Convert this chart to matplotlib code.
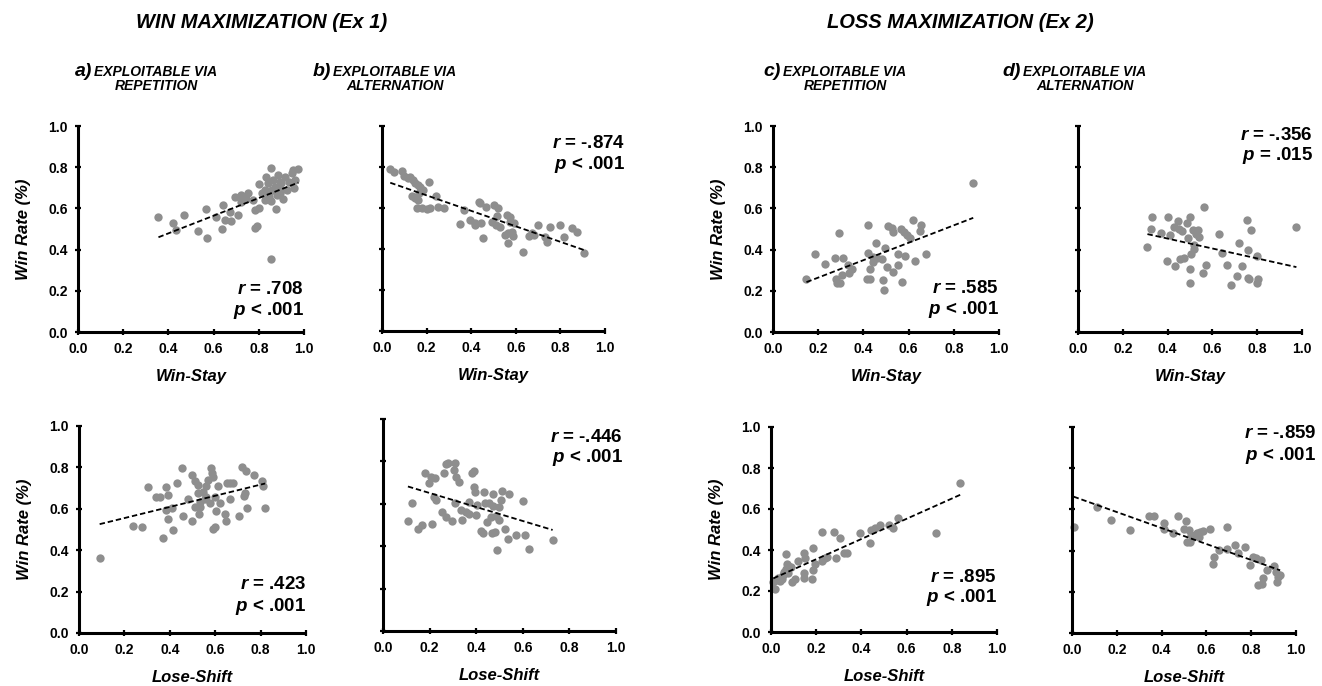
import matplotlib
import matplotlib.pyplot as plt
import numpy as np

matplotlib.use("Agg")

plt.rcParams["font.family"] = ["Liberation Sans", "DejaVu Sans"]
plt.rcParams["mathtext.fontset"] = "custom"
plt.rcParams["mathtext.bfit"] = "Liberation Sans:bold:italic"
plt.rcParams["mathtext.it"] = "Liberation Sans:bold:italic"

# ---- data ----
# Win maximization, exploitable via repetition: Win-Stay
win_rep_ws_x = [0.356, 0.419, 0.468, 0.434, 0.53, 0.567, 0.572, 0.612, 0.641, 0.639, 0.649, 0.671,
                0.679, 0.693, 0.708, 0.723, 0.745, 0.775, 0.782, 0.782, 0.79, 0.801, 0.801, 0.812,
                0.827, 0.841, 0.849, 0.853, 0.853, 0.856, 0.864, 0.871, 0.874, 0.879, 0.886, 0.893,
                0.9, 0.908, 0.916, 0.926, 0.933, 0.945, 0.953, 0.957, 0.975, 0.96, 0.834, 0.86,
                0.844, 0.9, 0.827, 0.893, 0.723, 0.751]
win_rep_ws_y = [0.556, 0.527, 0.567, 0.494, 0.49, 0.595, 0.454, 0.556, 0.616, 0.502, 0.543, 0.583,
                0.538, 0.656, 0.567, 0.632, 0.648, 0.64, 0.592, 0.507, 0.514, 0.603, 0.718, 0.673,
                0.689, 0.721, 0.684, 0.794, 0.637, 0.355, 0.737, 0.705, 0.595, 0.664, 0.762, 0.729,
                0.689, 0.648, 0.754, 0.689, 0.729, 0.77, 0.786, 0.697, 0.789, 0.737, 0.754, 0.689,
                0.656, 0.721, 0.64, 0.673, 0.664, 0.673]

# Win maximization, exploitable via alternation: Win-Stay
win_alt_ws_x = [0.037, 0.052, 0.09, 0.097, 0.115, 0.127, 0.139, 0.149, 0.16, 0.172, 0.184, 0.213,
                0.134, 0.149, 0.16, 0.157, 0.179, 0.201, 0.216, 0.243, 0.249, 0.276, 0.164, 0.351,
                0.366, 0.396, 0.416, 0.436, 0.44, 0.419, 0.446, 0.455, 0.467, 0.5, 0.522, 0.493,
                0.512, 0.515, 0.56, 0.575, 0.575, 0.552, 0.567, 0.567, 0.582, 0.587, 0.631, 0.657,
                0.672, 0.682, 0.701, 0.739, 0.754, 0.799, 0.818, 0.854, 0.873, 0.906, 0.53, 0.59,
                0.731]
win_alt_ws_y = [0.789, 0.777, 0.782, 0.756, 0.745, 0.753, 0.737, 0.72, 0.712, 0.701, 0.688, 0.728,
                0.659, 0.647, 0.639, 0.598, 0.598, 0.593, 0.598, 0.659, 0.603, 0.598, 0.672, 0.522,
                0.59, 0.541, 0.528, 0.631, 0.623, 0.517, 0.525, 0.455, 0.606, 0.615, 0.598, 0.533,
                0.517, 0.561, 0.566, 0.558, 0.533, 0.468, 0.476, 0.431, 0.485, 0.463, 0.387, 0.463,
                0.476, 0.468, 0.517, 0.436, 0.506, 0.517, 0.46, 0.501, 0.485, 0.382, 0.509, 0.525,
                0.46]

# Win maximization, exploitable via repetition: Lose-Shift
win_rep_ls_x = [0.091, 0.238, 0.276, 0.305, 0.37, 0.34, 0.355, 0.384, 0.391, 0.384, 0.394, 0.409,
                0.413, 0.433, 0.452, 0.457, 0.479, 0.497, 0.499, 0.509, 0.513, 0.523, 0.528, 0.535,
                0.545, 0.553, 0.56, 0.567, 0.575, 0.582, 0.587, 0.589, 0.592, 0.601, 0.597, 0.604,
                0.611, 0.619, 0.641, 0.648, 0.651, 0.663, 0.667, 0.677, 0.704, 0.717, 0.729, 0.736,
                0.739, 0.773, 0.805, 0.809, 0.82, 0.523, 0.56, 0.73, 0.531]
win_rep_ls_y = [0.362, 0.519, 0.514, 0.704, 0.457, 0.659, 0.659, 0.707, 0.667, 0.595, 0.551, 0.603,
                0.498, 0.727, 0.799, 0.566, 0.646, 0.764, 0.543, 0.611, 0.736, 0.678, 0.576, 0.635,
                0.683, 0.646, 0.711, 0.74, 0.63, 0.796, 0.775, 0.752, 0.502, 0.514, 0.659, 0.587,
                0.711, 0.63, 0.576, 0.539, 0.727, 0.646, 0.727, 0.727, 0.566, 0.804, 0.662, 0.785,
                0.603, 0.764, 0.736, 0.711, 0.603, 0.715, 0.659, 0.674, 0.611]

# Win maximization, exploitable via alternation: Lose-Shift
win_alt_ls_x = [0.107, 0.123, 0.152, 0.169, 0.181, 0.198, 0.205, 0.212, 0.219, 0.224, 0.229, 0.255,
                0.262, 0.269, 0.269, 0.281, 0.295, 0.305, 0.309, 0.309, 0.312, 0.327, 0.341, 0.355,
                0.367, 0.37, 0.384, 0.391, 0.398, 0.391, 0.395, 0.405, 0.42, 0.43, 0.434, 0.438,
                0.448, 0.456, 0.467, 0.47, 0.473, 0.481, 0.484, 0.491, 0.496, 0.499, 0.506, 0.51,
                0.524, 0.537, 0.542, 0.57, 0.603, 0.61, 0.628, 0.728, 0.463, 0.334]
win_alt_ls_y = [0.518, 0.602, 0.483, 0.502, 0.743, 0.696, 0.728, 0.507, 0.633, 0.72, 0.62, 0.562,
                0.743, 0.787, 0.539, 0.791, 0.518, 0.759, 0.791, 0.602, 0.728, 0.704, 0.523, 0.562,
                0.609, 0.554, 0.746, 0.756, 0.546, 0.68, 0.657, 0.594, 0.471, 0.46, 0.657, 0.602,
                0.515, 0.605, 0.46, 0.646, 0.589, 0.468, 0.542, 0.384, 0.523, 0.586, 0.62, 0.661,
                0.483, 0.435, 0.646, 0.452, 0.613, 0.455, 0.389, 0.431, 0.539, 0.57]

# Loss maximization, exploitable via repetition: Win-Stay
loss_rep_ws_x = [0.148, 0.188, 0.23, 0.274, 0.293, 0.277, 0.281, 0.296, 0.304, 0.308, 0.333, 0.338,
                 0.348, 0.422, 0.422, 0.415, 0.427, 0.43, 0.444, 0.456, 0.462, 0.481, 0.486, 0.489,
                 0.496, 0.504, 0.511, 0.526, 0.533, 0.533, 0.551, 0.553, 0.566, 0.573, 0.579, 0.585,
                 0.593, 0.607, 0.619, 0.627, 0.649, 0.655, 0.679, 0.886, 0.444]
loss_rep_ws_y = [0.259, 0.378, 0.329, 0.357, 0.481, 0.259, 0.238, 0.238, 0.276, 0.357, 0.324, 0.287,
                 0.308, 0.519, 0.384, 0.259, 0.308, 0.259, 0.34, 0.434, 0.357, 0.352, 0.251, 0.206,
                 0.41, 0.316, 0.514, 0.507, 0.292, 0.486, 0.378, 0.327, 0.502, 0.243, 0.486, 0.37,
                 0.47, 0.454, 0.546, 0.344, 0.491, 0.519, 0.378, 0.724, 0.365]

# Loss maximization, exploitable via alternation: Win-Stay
loss_alt_ws_x = [0.31, 0.325, 0.33, 0.37, 0.397, 0.4, 0.412, 0.43, 0.435, 0.445, 0.45, 0.456, 0.465,
                 0.471, 0.487, 0.49, 0.498, 0.498, 0.501, 0.505, 0.513, 0.516, 0.52, 0.528, 0.535,
                 0.54, 0.558, 0.562, 0.573, 0.63, 0.643, 0.663, 0.685, 0.711, 0.72, 0.733, 0.756,
                 0.76, 0.76, 0.765, 0.772, 0.798, 0.798, 0.805, 0.975]
loss_alt_ws_y = [0.412, 0.499, 0.56, 0.483, 0.346, 0.56, 0.47, 0.511, 0.321, 0.539, 0.502, 0.354,
                 0.489, 0.357, 0.527, 0.456, 0.56, 0.236, 0.305, 0.379, 0.494, 0.42, 0.404, 0.478,
                 0.494, 0.461, 0.288, 0.605, 0.325, 0.478, 0.384, 0.325, 0.226, 0.272, 0.433, 0.318,
                 0.544, 0.4, 0.264, 0.255, 0.494, 0.371, 0.236, 0.259, 0.511]

# Loss maximization, exploitable via repetition: Lose-Shift
loss_rep_ls_x = [0.01, 0.018, 0.025, 0.033, 0.04, 0.052, 0.058, 0.067, 0.067, 0.073, 0.077, 0.081,
                 0.087, 0.092, 0.107, 0.121, 0.144, 0.144, 0.147, 0.151, 0.181, 0.185, 0.188, 0.196,
                 0.225, 0.225, 0.24, 0.247, 0.277, 0.289, 0.304, 0.321, 0.336, 0.396, 0.437, 0.443,
                 0.462, 0.481, 0.521, 0.541, 0.561, 0.729, 0.837, 0.074, 0.047]
loss_rep_ls_y = [0.246, 0.209, 0.254, 0.263, 0.251, 0.279, 0.295, 0.381, 0.306, 0.332, 0.323, 0.316,
                 0.319, 0.246, 0.258, 0.348, 0.384, 0.287, 0.263, 0.36, 0.258, 0.303, 0.408, 0.332,
                 0.489, 0.344, 0.36, 0.368, 0.489, 0.36, 0.457, 0.384, 0.384, 0.481, 0.436, 0.498,
                 0.506, 0.522, 0.522, 0.506, 0.554, 0.485, 0.729, 0.287, 0.258]

# Loss maximization, exploitable via alternation: Lose-Shift
loss_alt_ls_x = [0.007, 0.111, 0.174, 0.257, 0.342, 0.364, 0.409, 0.412, 0.453, 0.475, 0.498, 0.51,
                 0.513, 0.523, 0.527, 0.532, 0.542, 0.557, 0.565, 0.572, 0.584, 0.617, 0.629, 0.634,
                 0.658, 0.691, 0.694, 0.728, 0.743, 0.773, 0.795, 0.807, 0.822, 0.832, 0.842, 0.847,
                 0.854, 0.869, 0.902, 0.911, 0.917, 0.921, 0.929]
loss_alt_ls_y = [0.516, 0.614, 0.549, 0.5, 0.568, 0.568, 0.532, 0.503, 0.487, 0.568, 0.503, 0.545,
                 0.443, 0.5, 0.443, 0.476, 0.468, 0.484, 0.468, 0.492, 0.497, 0.503, 0.334, 0.37,
                 0.403, 0.406, 0.516, 0.427, 0.386, 0.416, 0.33, 0.367, 0.362, 0.232, 0.354, 0.24,
                 0.265, 0.308, 0.325, 0.297, 0.248, 0.273, 0.281]

# stats labels, in panel order a-top, b-top, a-bottom, b-bottom, c-top, d-top, c-bottom, d-bottom
r_labels = [".708", "-.874", ".423", "-.446", ".585", "-.356", ".895", "-.859"]
p_labels = ["< .001", "< .001", "< .001", "< .001", "< .001", "= .015", "< .001", "< .001"]

W, H = 1322, 686
fig = plt.figure(figsize=(W / 100, H / 100), dpi=100)


def rect(left, top, w, h):
    return [left / W, 1 - (top + h) / H, w / W, h / H]


panels = [
    # x, y, rect (px), xlabel, show ylabels, stats anchor (axes fraction)
    (win_rep_ws_x, win_rep_ws_y, rect(78, 126, 226, 206), "Win-Stay", True, (1.0, 0.205, 0.105)),
    (win_alt_ws_x, win_alt_ws_y, rect(382, 126, 223, 205), "Win-Stay", False, (1.09, 0.915, 0.81)),
    (win_rep_ls_x, win_rep_ls_y, rect(79, 426, 227, 207), "Lose-Shift", True, (1.0, 0.232, 0.126)),
    (win_alt_ls_x, win_alt_ls_y, rect(383, 419, 233, 212), "Lose-Shift", False, (1.03, 0.915, 0.82)),
    (loss_rep_ws_x, loss_rep_ws_y, rect(773, 126, 226, 206), "Win-Stay", True, (1.0, 0.21, 0.11)),
    (loss_alt_ws_x, loss_alt_ws_y, rect(1078, 126, 224, 206), "Win-Stay", False, (1.05, 0.955, 0.858)),
    (loss_rep_ls_x, loss_rep_ls_y, rect(771, 427, 226, 205), "Lose-Shift", True, (1.0, 0.268, 0.166)),
    (loss_alt_ls_x, loss_alt_ls_y, rect(1072, 427, 224, 206), "Lose-Shift", False, (1.09, 0.97, 0.864)),
]

for i, (xs, ys, r, xlabel, show_y, (sx, ry, py)) in enumerate(panels):
    ax = fig.add_axes(r)
    xs = np.array(xs)
    ys = np.array(ys)
    ax.scatter(xs, ys, s=36, color="#8e8e8e", linewidths=0, zorder=2, clip_on=False)
    slope, icept = np.polyfit(xs, ys, 1)
    lx = np.array([xs.min(), xs.max()])
    ax.plot(lx, slope * lx + icept, color="black", linestyle=(0, (3, 1.6)), linewidth=1.3, zorder=3)

    ax.set_xlim(0, 1)
    ax.set_ylim(0, 1)
    ticks = [0.0, 0.2, 0.4, 0.6, 0.8, 1.0]
    ax.set_xticks(ticks)
    ax.set_yticks(ticks)
    ax.set_xticklabels([f"{t:.1f}" for t in ticks], fontsize=10, fontweight="bold")
    if show_y:
        ax.set_yticklabels([f"{t:.1f}" for t in ticks], fontsize=10, fontweight="bold")
        ax.set_ylabel("Win Rate (%)", fontsize=12, fontweight="bold", fontstyle="italic", labelpad=12)
    else:
        ax.set_yticklabels([])
    ax.set_xlabel(xlabel, fontsize=12, fontweight="bold", fontstyle="italic", labelpad=9)
    for side in ("top", "right"):
        ax.spines[side].set_visible(False)
    for side in ("left", "bottom"):
        ax.spines[side].set_linewidth(2.2)
        ax.spines[side].set_capstyle("butt")
    ax.tick_params(direction="inout", length=5, width=1.6, pad=5, colors="black")

    ax.text(sx, ry, r"$\mathit{r}$ = " + r_labels[i], transform=ax.transAxes, ha="right", va="center",
            fontsize=13.5, fontweight="bold")
    ax.text(sx, py, r"$\mathit{p}$ " + p_labels[i], transform=ax.transAxes, ha="right", va="center",
            fontsize=13.5, fontweight="bold")

# headings
title_kw = dict(fontsize=14.5, fontweight="bold", fontstyle="italic", ha="center", va="center")
fig.text(262 / W, 1 - 23 / H, "WIN MAXIMIZATION (Ex 1)", **title_kw)
fig.text(960 / W, 1 - 23 / H, "LOSS MAXIMIZATION (Ex 2)", **title_kw)

sub_heads = [
    ("a)", 92, 156, "EXPLOITABLE VIA", "REPETITION"),
    ("b)", 331, 395, "EXPLOITABLE VIA", "ALTERNATION"),
    ("c)", 781, 845, "EXPLOITABLE VIA", "REPETITION"),
    ("d)", 1021, 1085, "EXPLOITABLE VIA", "ALTERNATION"),
]
for letter, lx, cx, line1, line2 in sub_heads:
    fig.text(lx / W, 1 - 71 / H, letter, fontsize=14, fontweight="bold", fontstyle="italic",
             ha="right", va="center")
    fig.text(cx / W, 1 - 72 / H, line1, fontsize=10, fontweight="bold", fontstyle="italic",
             ha="center", va="center")
    fig.text(cx / W, 1 - 86 / H, line2, fontsize=10, fontweight="bold", fontstyle="italic",
             ha="center", va="center")

fig.savefig("out.png", dpi=100)
